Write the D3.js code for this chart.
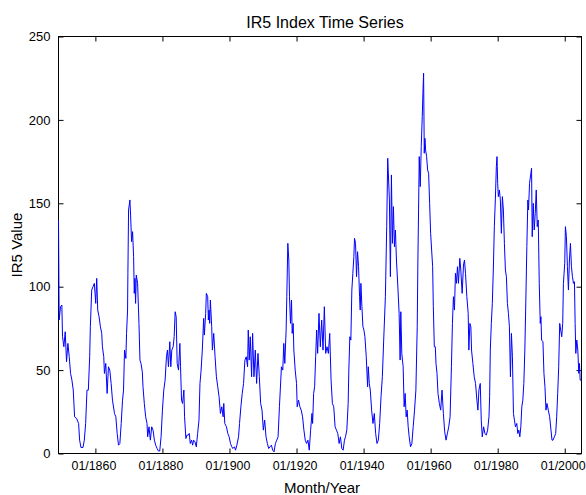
<!DOCTYPE html>
<html><head><meta charset="utf-8">
<script src="https://cdn.jsdelivr.net/npm/d3@7"></script>
<style>body{margin:0;background:#fff} text{font-family:Arial,"Liberation Sans",sans-serif;fill:#000}</style>
</head><body><svg id="c" width="586" height="495"></svg>
<script>
const chartTitle = "IR5 Index Time Series";
const xLabel = "Month/Year";
const yLabel = "IR5 Value";
const xDomain = [1849, 2005];
const yDomain = [0, 250];
const yTicks = [0, 50, 100, 150, 200, 250];
const xTickYears = [1860, 1880, 1900, 1920, 1940, 1960, 1980, 2000];
const xTickLabels = ["01/1860", "01/1880", "01/1900", "01/1920", "01/1940", "01/1960", "01/1980", "01/2000"];

const years = [
1849.0,1849.2,1849.6,1850.0,1850.2,1850.6,1851.0,1851.4,1851.8,1852.2,1852.6,1853.0,1853.4,1853.8,1854.4,1855.0,1855.3,1855.7,1856.3,1856.7,1857.1,1857.5,1857.9,1858.3,1858.5,1858.9,1859.3,1859.7,
1860.1,1860.4,1860.7,1861.1,1861.5,1861.9,1862.1,1862.5,1862.7,1863.1,1863.5,1863.9,1864.3,1864.7,1865.1,1865.7,1866.1,1866.5,1866.9,1867.3,1867.7,1868.1,1868.4,1868.7,1869.1,1869.3,1869.6,1869.7,1869.9,
1870.3,1870.5,1870.8,1871.1,1871.4,1871.6,1871.8,1872.0,1872.2,1872.6,1873.0,1873.3,1873.6,1874.0,1874.2,1874.6,1875.0,1875.4,1875.6,1876.0,1876.4,1876.8,1877.2,1877.6,1878.0,1878.4,1878.8,1879.2,1879.6,
1880.0,1880.4,1880.8,1881.2,1881.5,1881.8,1882.2,1882.5,1882.8,1883.2,1883.5,1883.8,1884.1,1884.4,1884.8,1885.2,1885.4,1885.7,1886.0,1886.4,1886.6,1887.0,1887.3,1887.7,1888.0,1888.3,1888.7,1889.0,1889.3,1889.7,
1890.1,1890.5,1890.9,1891.2,1891.5,1891.9,1892.3,1892.5,1892.9,1893.1,1893.5,1893.7,1893.9,1894.1,1894.3,1894.7,1894.9,1895.3,1895.7,1896.1,1896.5,1896.9,1897.3,1897.7,1898.1,1898.3,1898.6,1899.1,1899.5,1899.9,
1900.3,1900.7,1901.0,1901.5,1901.8,1902.2,1902.7,1903.0,1903.4,1903.8,1904.2,1904.6,1905.0,1905.4,1905.6,1905.9,1906.2,1906.6,1906.9,1907.3,1907.7,1908.1,1908.5,1908.9,1909.3,1909.7,
1910.1,1910.5,1910.9,1911.3,1911.7,1912.1,1912.5,1912.9,1913.3,1913.7,1914.1,1914.5,1914.9,1915.3,1915.5,1915.9,1916.2,1916.5,1916.9,1917.1,1917.4,1917.7,1917.9,1918.2,1918.5,1918.7,1919.0,1919.2,1919.6,
1920.0,1920.2,1920.6,1921.0,1921.4,1921.8,1922.2,1922.6,1923.0,1923.4,1923.8,1924.2,1924.6,1924.8,1925.1,1925.4,1925.7,1926.0,1926.3,1926.7,1927.1,1927.5,1927.9,1928.3,1928.7,1929.1,1929.5,1929.9,
1930.3,1930.7,1931.1,1931.5,1931.9,1932.3,1932.7,1933.1,1933.5,1933.9,1934.3,1934.6,1935.0,1935.4,1935.6,1935.9,1936.2,1936.5,1936.8,1937.1,1937.3,1937.6,1937.9,1938.2,1938.5,1938.8,1939.0,1939.2,1939.5,1939.8,
1940.1,1940.4,1940.8,1941.2,1941.4,1941.7,1942.0,1942.4,1942.8,1943.2,1943.6,1944.0,1944.4,1944.8,1945.2,1945.6,1946.0,1946.5,1946.9,1947.2,1947.7,1948.0,1948.3,1948.6,1948.9,1949.2,1949.5,1949.8,
1950.2,1950.6,1950.9,1951.1,1951.4,1951.8,1952.1,1952.4,1952.7,1953.0,1953.3,1953.6,1954.0,1954.4,1954.8,1955.2,1955.6,1956.0,1956.2,1956.4,1956.6,1956.9,1957.2,1957.5,1957.7,1957.9,1958.1,1958.3,1958.5,1958.8,1959.1,1959.4,1959.7,
1960.0,1960.3,1960.6,1960.8,1961.1,1961.4,1961.6,1961.9,1962.2,1962.6,1963.0,1963.4,1963.8,1964.2,1964.6,1965.0,1965.4,1965.8,1966.2,1966.5,1966.8,1967.1,1967.4,1967.7,1968.0,1968.3,1968.7,1969.0,1969.4,1969.8,
1970.1,1970.4,1970.8,1971.2,1971.4,1971.7,1972.0,1972.2,1972.6,1973.0,1973.4,1973.8,1974.1,1974.4,1974.8,1975.1,1975.4,1975.8,1976.2,1976.6,1977.0,1977.4,1977.6,1977.8,1978.1,1978.4,1978.7,1979.0,1979.3,1979.6,1979.8,
1980.0,1980.2,1980.5,1980.8,1981.1,1981.4,1981.7,1982.0,1982.3,1982.6,1982.9,1983.2,1983.5,1983.8,1984.1,1984.4,1984.7,1985.0,1985.3,1985.7,1986.0,1986.3,1986.6,1986.9,1987.2,1987.5,1987.8,1988.1,1988.4,1988.7,1989.0,1989.2,1989.5,1989.9,
1990.1,1990.3,1990.6,1990.9,1991.2,1991.5,1991.8,1992.1,1992.4,1992.7,1992.9,1993.1,1993.5,1993.8,1994.1,1994.4,1994.7,1995.1,1995.5,1995.9,1996.2,1996.5,1996.9,1997.3,1997.6,1997.9,1998.2,1998.5,1998.8,1999.1,1999.4,1999.6,1999.8,
2000.0,2000.2,2000.5,2000.8,2001.1,2001.4,2001.7,2002.0,2002.3,2002.6,2002.9,2003.1,2003.3,2003.6,2003.9,2004.2,2004.4,2004.6,2004.9
];
const values = [
140,80,88,89,70,64,73,55,66,58,48,44,38,22,21,18,8,3.6,3.6,8,18,38,38,58,76,98,100,102,
90,105,86,82,76,72,64,58,48,54,36,52,50,42,32,24,22,12,5,6,18,32,38,62,57,72,86,108,146,
152,143,127,133,118,96,105,90,107,102,78,56,54,49,40,30,22,18,10,16,8,16,14,8,5,3,1.5,1.5,10,
26,38,44,58,62,52,67,52,62,64,70,85,82,54,50,66,52,32,30,38,22,9,11,11,12,6,8,5,8,7,
4,12,20,42,49,62,81,71,84,96,94,80,86,78,92,76,62,72,58,46,40,34,24,28,22,30,18,16,12,10,
6,4,3,4,2,5,10,18,28,36,42,56,58,52,74,56,70,46,72,46,62,42,60,46,30,26,
14,20,10,6,3,4,5,2,1,6,8,10,28,44,52,50,66,54,74,94,126,116,94,78,92,72,78,62,50,
42,28,32,28,26,22,14,8,6,8,2,14,24,18,36,40,58,74,60,84,64,80,62,88,60,64,60,72,
44,30,28,16,14,12,6,10,3,2,8,10,14,30,50,70,68,98,108,118,129,126,106,121,112,94,86,102,88,76,
74,70,58,40,52,42,38,26,18,24,12,6,8,18,34,46,68,94,136,177,152,106,167,126,148,124,134,116,
101,84,56,85,60,52,28,36,22,26,16,10,4,6,16,26,38,76,116,146,178,160,184,202,216,228,180,189,182,178,170,168,150,
132,122,112,88,64,64,54,48,36,30,26,38,24,13,8,12,16,22,52,78,94,86,108,102,112,102,117,110,96,113,
116,108,94,84,62,78,76,62,54,46,42,32,26,38,42,20,10,16,12,11,14,22,34,62,78,90,110,136,152,172,178,
162,154,158,152,132,154,146,126,110,106,90,84,76,46,72,58,24,20,16,18,12,14,10,16,28,32,42,62,92,124,152,146,162,168,
171,130,150,134,144,158,136,140,102,78,82,68,67,48,40,26,30,26,22,14,8,8,10,12,22,36,52,78,74,70,78,102,108,
114,136,130,112,98,116,126,112,106,102,103,78,60,68,62,48,54,44,44
];

const data = years.map((yr, i) => ({yr, v: values[i]}));

const svg = d3.select("#c");
const L = 58.5, R = 581.5, T = 36.5, B = 453.5;
const x = d3.scaleLinear().domain(xDomain).range([L, R]);
const y = d3.scaleLinear().domain(yDomain).range([B, T]);

const fmt = d => xTickLabels[xTickYears.indexOf(d)];
function style(g){
  g.select(".domain").remove();
  g.selectAll(".tick line").attr("stroke", "#000");
  g.selectAll("text").attr("font-size", 13).attr("fill", "#000")
    .style("font-family", "Arial, 'Liberation Sans', sans-serif");
}
svg.append("g").attr("transform", `translate(0,${B})`)
  .call(d3.axisBottom(x).tickValues(xTickYears).tickFormat(fmt).tickSizeInner(-5).tickSizeOuter(0).tickPadding(8))
  .call(style)
  .call(g => g.selectAll("text").attr("font-size", 12.4).attr("dx", -2));
svg.append("g").attr("transform", `translate(0,${T})`)
  .call(d3.axisTop(x).tickValues(xTickYears).tickFormat("").tickSizeInner(-5).tickSizeOuter(0))
  .call(style);
svg.append("g").attr("transform", `translate(${L},0)`)
  .call(d3.axisLeft(y).tickValues(yTicks).tickFormat(d3.format("d")).tickSizeInner(-5).tickSizeOuter(0).tickPadding(8))
  .call(style);
svg.append("g").attr("transform", `translate(${R},0)`)
  .call(d3.axisRight(y).tickValues(yTicks).tickFormat("").tickSizeInner(-5).tickSizeOuter(0))
  .call(style);

// frame
svg.append("rect").attr("x", L).attr("y", T).attr("width", R - L).attr("height", B - T)
  .attr("fill", "none").attr("stroke", "#000").attr("stroke-width", 1);

// line drawn on top of the frame
svg.append("path").datum(data)
  .attr("fill", "none").attr("stroke", "#0000ff").attr("stroke-width", 1)
  .attr("stroke-linejoin", "round")
  .attr("d", d3.line().x(d => x(d.yr)).y(d => y(d.v)));

// texts
svg.append("text").attr("x", 325).attr("y", 27.5).attr("text-anchor", "middle")
  .attr("font-size", 16).text(chartTitle);
svg.append("text").attr("x", 322).attr("y", 493).attr("text-anchor", "middle")
  .attr("font-size", 15).text(xLabel);
svg.append("text").attr("transform", "translate(21.5,245) rotate(-90)").attr("text-anchor", "middle")
  .attr("font-size", 15).text(yLabel);
</script></body></html>
